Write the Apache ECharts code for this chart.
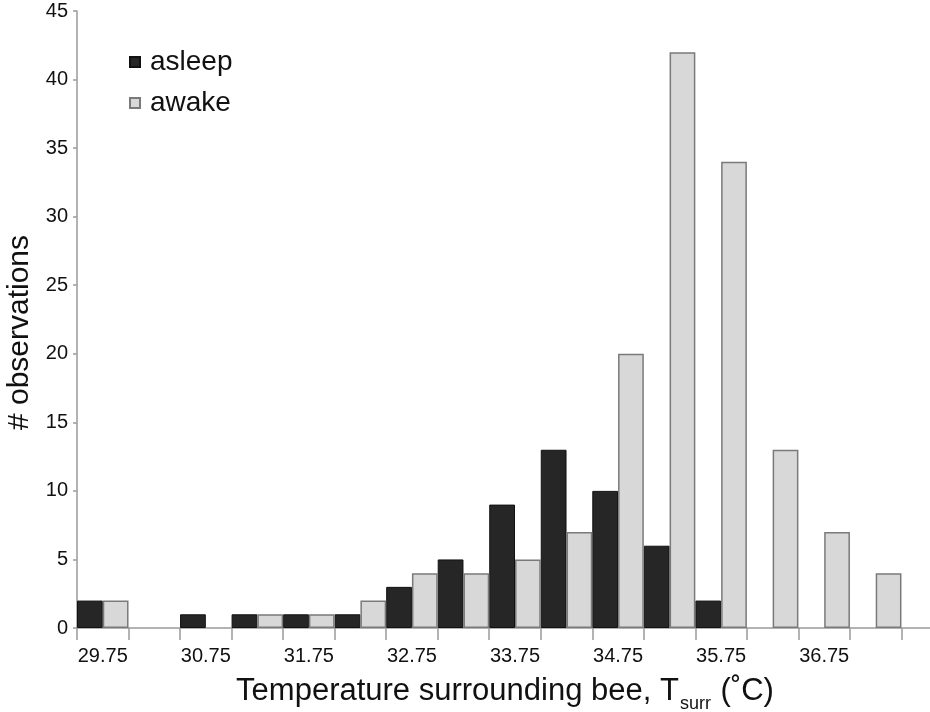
<!DOCTYPE html>
<html>
<head>
<meta charset="utf-8">
<script src="https://cdn.jsdelivr.net/npm/echarts@6/dist/echarts.min.js"></script>
<style>
  html, body { margin: 0; padding: 0; background: #fff; }
  #container1 { width: 930px; height: 712px; }
</style>
</head>
<body>
<div id="container1"></div>
<script>
// temperature bins (0.5 °C wide), labels shown on every other bin
var tempBins = ['29.75', '30.25', '30.75', '31.25', '31.75', '32.25', '32.75', '33.25',
    '33.75', '34.25', '34.75', '35.25', '35.75', '36.25', '36.75', '37.25', '37.75'];
var asleepCounts = [2, 0, 1, 1, 1, 1, 3, 5, 9, 13, 10, 6, 2, 0, 0, 0, 0];
var awakeCounts = [2, 0, 0, 1, 1, 2, 4, 4, 5, 7, 20, 42, 34, 13, 7, 4, 0];
var yTicks = { min: 0, max: 45, interval: 5 };

var FONT = '"Liberation Sans", Arial, Helvetica, sans-serif';

// 0 -> '-' so empty bins draw nothing
function noZero(arr) {
    return arr.map(function (v) { return v === 0 ? '-' : v; });
}

function Chart_Init() {
    var myChart = echarts.init(document.getElementById('container1'));
    var option = {
        animation: false,
        backgroundColor: '#fff',
        textStyle: { fontFamily: FONT },
        grid: {
            left: 77,
            top: 11,
            bottom: 84,
            width: 876,
            outerBoundsMode: 'none',
            containLabel: false
        },
        legend: {
            orient: 'vertical',
            left: 129,
            top: 47,
            padding: 0,
            icon: 'rect',
            itemWidth: 10,
            itemHeight: 10,
            itemGap: 11,
            textStyle: {
                fontFamily: FONT,
                fontSize: 28,
                lineHeight: 30,
                color: '#111',
                padding: [0, 0, 0, 5]
            },
            data: ['asleep', 'awake']
        },
        xAxis: {
            type: 'category',
            data: tempBins,
            boundaryGap: true,
            axisLine: { lineStyle: { color: '#9a9a9a', width: 1.5 } },
            axisTick: {
                show: true,
                interval: 0,
                alignWithLabel: false,
                length: 12,
                lineStyle: { color: '#9a9a9a', width: 1.5 }
            },
            axisLabel: {
                // every other bin; the last one runs off the edge
                interval: function (index) { return index % 2 === 0 && index < tempBins.length - 1; },
                margin: 18,
                fontFamily: FONT,
                fontSize: 20,
                color: '#111'
            },
            name: '{a|Temperature surrounding bee, T}{s|surr}{a| (˚C)}',
            nameLocation: 'middle',
            nameGap: 48,
            nameTextStyle: {
                padding: [0, 20, 0, 0],
                rich: {
                    a: { fontFamily: FONT, fontSize: 31, lineHeight: 36, color: '#111', verticalAlign: 'top' },
                    s: { fontFamily: FONT, fontSize: 18, lineHeight: 21, color: '#111', verticalAlign: 'top', padding: [19, 1, 0, 1] }
                }
            }
        },
        yAxis: {
            type: 'value',
            min: yTicks.min,
            max: yTicks.max,
            interval: yTicks.interval,
            splitLine: { show: false },
            axisLine: { show: true, lineStyle: { color: '#9a9a9a', width: 1.5 } },
            axisTick: { show: true, length: 4, lineStyle: { color: '#9a9a9a', width: 1.5 } },
            axisLabel: {
                margin: 9,
                fontFamily: FONT,
                fontSize: 20,
                color: '#111'
            },
            name: '# observations',
            nameLocation: 'middle',
            nameGap: 38,
            nameTextStyle: {
                fontFamily: FONT,
                fontSize: 30,
                color: '#111',
                padding: [0, 26, 0, 0]
            }
        },
        series: [
            {
                name: 'asleep',
                type: 'bar',
                barGap: '0%',
                barCategoryGap: '0%',
                itemStyle: { color: '#262626', borderColor: '#111', borderWidth: 1 },
                data: noZero(asleepCounts)
            },
            {
                name: 'awake',
                type: 'bar',
                barGap: '0%',
                barCategoryGap: '0%',
                itemStyle: { color: '#d8d8d8', borderColor: '#7a7a7a', borderWidth: 1.5 },
                data: noZero(awakeCounts)
            }
        ]
    };
    myChart.setOption(option);
}

Chart_Init();
</script>
</body>
</html>
